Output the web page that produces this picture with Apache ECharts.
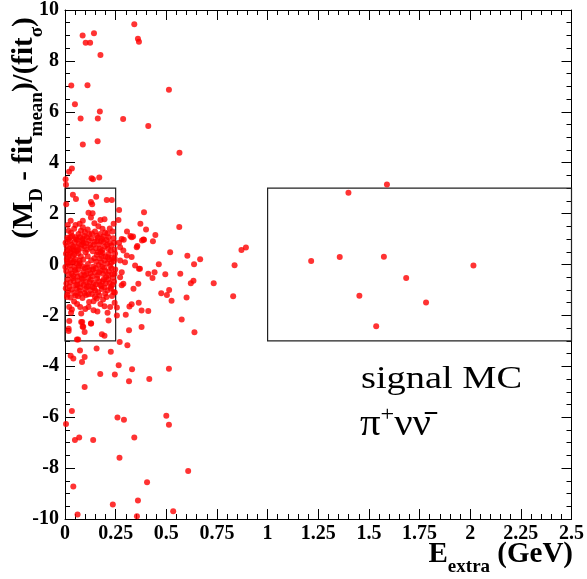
<!DOCTYPE html>
<html>
<head>
<meta charset="utf-8">
<script src="https://cdn.jsdelivr.net/npm/echarts@6/dist/echarts.min.js"></script>
<style>
html,body{margin:0;padding:0;background:#fff;}
#chart{width:587px;height:579px;}
</style>
</head>
<body>
<div id="chart"></div>
<script>
// ---- data (E_extra in GeV, normalized mass residual) ----
const xTickLabels = ['0','0.25','0.5','0.75','1','1.25','1.5','1.75','2','2.25','2.5'];
const yTickLabels = ['-10','-8','-6','-4','-2','0','2','4','6','8','10'];

// dense core of the distribution (E_extra < ~0.4)
const corePoints = [
[0.012,1.05],[0.024,0.92],[0.035,1.12],[0.048,0.88],[0.061,0.97],[0.074,1.08],[0.092,0.86],[0.118,0.95],[0.131,1.02],[0.146,0.89],[0.162,1.05],[0.177,0.91],[0.189,1.10],[0.205,0.96],[0.221,0.84],[0.238,1.03],
[0.008,0.74],[0.019,0.61],[0.031,0.78],[0.043,0.55],[0.057,0.69],[0.069,0.81],[0.083,0.63],[0.097,0.72],[0.109,0.58],[0.124,0.77],[0.152,0.64],[0.168,0.79],[0.183,0.57],[0.196,0.71],[0.212,0.62],[0.229,0.75],[0.244,0.59],
[0.005,0.42],[0.016,0.29],[0.028,0.47],[0.039,0.33],[0.052,0.21],[0.066,0.44],[0.078,0.31],[0.101,0.48],[0.157,0.38],[0.171,0.24],[0.186,0.45],[0.199,0.31],[0.216,0.41],[0.232,0.27],[0.247,0.43],
[0.011,0.12],[0.023,-0.04],[0.036,0.08],[0.047,-0.11],[0.059,0.03],[0.072,0.15],[0.086,-0.07],[0.113,0.02],[0.139,-0.09],[0.154,0.11],[0.166,-0.02],[0.179,0.09],[0.193,-0.13],[0.208,0.05],[0.223,-0.06],[0.241,0.13],
[0.006,-0.26],[0.018,-0.39],[0.029,-0.21],[0.041,-0.45],[0.054,-0.32],[0.067,-0.19],[0.079,-0.41],[0.093,-0.28],[0.106,-0.37],[0.121,-0.22],[0.134,-0.46],[0.148,-0.31],[0.161,-0.43],[0.175,-0.24],[0.188,-0.36],[0.203,-0.49],[0.217,-0.27],[0.233,-0.38],[0.248,-0.20],
[0.013,-0.58],[0.026,-0.71],[0.038,-0.54],[0.051,-0.82],[0.063,-0.63],[0.077,-0.76],[0.089,-0.57],[0.103,-0.69],[0.117,-0.84],[0.128,-0.60],[0.142,-0.73],[0.158,-0.55],[0.173,-0.81],[0.186,-0.66],[0.201,-0.74],[0.214,-0.59],[0.227,-0.87],[0.242,-0.68],
[0.004,-0.93],[0.017,-1.05],[0.032,-0.98],[0.045,-1.12],[0.058,-0.95],[0.071,-1.03],[0.099,-0.97],[0.126,-1.01],[0.144,-0.92],[0.163,-1.09],[0.181,-0.96],[0.209,-1.02],[0.226,-0.94],[0.246,-1.10],
[0.010,0.55],[0.044,0.12],[0.062,-0.48],[0.085,0.92],[0.137,0.52],[0.192,-0.58],[0.219,0.20],[0.236,-0.52],[0.027,0.18],[0.098,-0.15],[0.172,0.62],[0.115,-0.52],[0.055,0.99],[0.150,-1.03],
[0.003,0.85],[0.015,0.98],[0.040,0.70],[0.064,0.58],[0.081,0.78],[0.095,1.12],[0.105,0.83],[0.126,0.66],[0.141,0.78],[0.159,0.92],[0.176,0.50],[0.192,0.88],[0.208,0.77],[0.226,0.55],[0.243,0.85],
[0.009,0.22],[0.021,0.38],[0.034,0.60],[0.046,0.40],[0.058,0.52],[0.073,0.05],[0.090,0.19],[0.112,0.32],[0.129,0.17],[0.145,0.25],[0.163,0.48],[0.181,0.33],[0.195,0.16],[0.211,0.28],[0.228,0.07],[0.245,0.25],
[0.002,-0.10],[0.014,0.03],[0.032,-0.35],[0.050,-0.22],[0.069,-0.05],[0.083,-0.55],[0.096,-0.42],[0.110,-0.12],[0.125,-0.34],[0.137,-0.20],[0.152,-0.14],[0.169,-0.30],[0.184,-0.08],[0.199,-0.26],[0.214,-0.41],[0.230,-0.16],[0.244,-0.36],
[0.007,-0.75],[0.022,-0.86],[0.042,-0.65],[0.060,-0.80],[0.074,-0.90],[0.093,-0.80],[0.108,-0.88],[0.122,-0.70],[0.136,-0.88],[0.153,-0.79],[0.168,-0.66],[0.180,-0.85],[0.196,-0.90],[0.220,-0.73],[0.235,-0.80],
[0.012,-1.18],[0.028,-1.30],[0.052,-1.22],[0.086,-1.32],[0.104,-1.20],[0.133,-1.16],[0.148,-1.27],[0.170,-1.22],[0.188,-1.38],[0.205,-1.28],[0.232,-1.24],
[0.030,1.25],[0.045,1.40],[0.098,1.28],[0.120,1.19],[0.148,1.30],[0.185,1.40],[0.210,1.22],[0.235,1.30],[0.014,1.55],[0.072,1.60],[0.128,1.85],[0.175,1.75],
[0.030,-1.90],[0.060,-1.55],[0.100,-1.75],[0.160,-1.85],[0.210,-1.90],[0.245,-1.50],
[0.067,1.20],[0.051,1.07],[0.026,1.07],[0.133,1.22],[0.157,1.13],[0.173,1.20],[0.198,1.26],[0.108,1.07],[0.087,1.00],[0.215,1.07],[0.182,1.00],
[0.088,1.46],[0.079,1.33],[0.018,1.33],[0.221,1.41],[0.028,1.72],[0.088,1.72],[0.116,2.03],[0.136,2.01],[0.006,2.37],[0.128,2.46],[0.134,2.37],
[0.039,2.74],[0.054,2.57],[0.154,2.66],[0.206,2.53],[0.231,2.53],[0.005,3.13],[0.145,1.62],[0.195,1.78],[0.052,1.55],[0.240,1.60],[0.112,1.38],[0.165,1.50],
[0.010,-1.28],[0.064,-1.25],[0.075,-1.15],[0.097,-1.12],[0.116,-1.17],[0.157,-1.34],[0.141,-1.44],[0.119,-1.47],[0.198,-1.15],[0.239,-1.08],
[0.021,-1.67],[0.034,-1.77],[0.075,-1.67],[0.080,-1.93],[0.116,-1.67],[0.141,-1.80],[0.195,-1.64],[0.223,-1.67],[0.256,-1.69],[0.256,-2.00],
[0.021,-2.22],[0.018,-2.52],[0.080,-2.26],[0.087,-2.45],[0.097,-2.65],[0.129,-2.32],[0.182,-2.74],[0.195,-2.80],[0.059,-2.95],[0.045,-1.45],[0.175,-1.55],[0.215,-2.20],
[0.280,1.00],[0.329,1.07],[0.387,0.98],[0.272,0.68],[0.288,0.55],[0.354,0.68],[0.305,0.35],[0.329,0.29],[0.272,0.16],[0.296,0.09],[0.346,-0.04],[0.370,-0.17],[0.280,-0.30],[0.411,-0.36],[0.272,-0.50],[0.288,-0.76],[0.362,-0.76],[0.338,-0.95],[0.280,-0.82],
[0.267,2.14],[0.390,2.05],[0.264,1.75],[0.372,1.60],[0.400,1.38],[0.306,1.30],[0.446,1.16],[0.323,1.12],[0.336,1.10],[0.390,0.97],[0.380,0.94],[0.434,0.91],[0.290,0.97],[0.267,0.85],[0.357,0.73],
[0.519,0.48],[0.604,0.34],[0.667,0.21],[0.463,0.01],[0.637,0.01],[0.837,-0.03],[0.365,-0.17],[0.442,-0.30],[0.495,-0.38],[0.569,-0.36],[0.432,-0.53],[0.634,-0.64],[0.621,-0.74],[0.734,-0.74],[0.514,-1.00],
[0.475,-1.13],[0.503,-1.20],[0.526,-1.42],[0.600,-1.30],[0.830,-1.25],[0.364,-1.50],[0.329,-1.56],[0.318,-1.65],[0.378,-1.81],[0.411,-1.83],[0.300,-1.97],[0.576,-2.16],[0.378,-2.46],[0.316,-2.58],[0.639,-2.66],
[0.564,1.47],[0.893,0.67],[0.871,0.57],[0.090,-2.45],[0.085,-2.26],[0.128,-2.32],[0.018,-2.61],[0.065,-2.95],[0.270,-3.05],[0.308,-3.17]
];

// sparse tails (|residual| > 3)
const tailPoints = [
[0.342,9.44],[0.143,9.09],[0.087,9.00],[0.102,8.71],[0.124,8.71],[0.360,8.87],[0.365,8.75],[0.175,8.23],
[0.031,7.03],[0.111,7.04],[0.513,6.87],[0.049,6.30],[0.172,6.01],[0.077,5.74],[0.162,5.74],[0.287,5.72],[0.411,5.44],
[0.088,4.72],[0.161,4.84],[0.565,4.39],[0.034,3.77],[0.020,3.64],[0.003,3.35],[0.131,3.39],[0.138,3.35],[0.169,3.42],
[0.156,-3.30],[0.226,-3.43],[0.028,-3.59],[0.041,-3.69],[0.074,-3.38],[0.097,-3.63],[0.084,-3.83],[0.265,-3.96],[0.331,-4.12],[0.513,-4.10],
[0.174,-4.30],[0.246,-4.32],[0.316,-4.59],[0.416,-4.50],[0.097,-4.81],[0.034,-5.76],[0.005,-6.27],[0.259,-6.01],[0.291,-6.10],[0.500,-5.94],[0.513,-6.30],
[0.049,-6.90],[0.070,-6.80],[0.139,-6.90],[0.342,-6.80],[0.269,-7.59],[0.608,-8.11],[0.041,-8.72],[0.405,-8.56],[0.236,-9.43],[0.360,-9.27],
[0.062,-9.82],[0.355,-9.89],[0.534,-9.70]
];

// events in the high-E_extra region
const highEPoints = [
[1.589,3.14],[1.399,2.82],[1.215,0.14],[1.356,0.29],[1.574,0.30],[2.016,-0.04],[1.684,-0.53],[1.453,-1.23],[1.782,-1.49],[1.536,-2.43]
];

// selection boxes [xmin, ymin, xmax, ymax]
const boxes = [[0,-3,0.25,3],[1,-3,2.5,3]];

const allPoints = corePoints.concat(tailPoints, highEPoints);

const chart = echarts.init(document.getElementById('chart'), null, {renderer:'canvas'});
const FONT = 'Liberation Serif, Times New Roman, serif';
const axisCommon = {
  type:'value',
  axisLine:{show:true, onZero:false, lineStyle:{color:'#000', width:1}},
  axisTick:{show:true, inside:true, length:10, lineStyle:{color:'#000', width:1}},
  minorTick:{show:true, length:5, lineStyle:{color:'#000', width:1}},
  splitLine:{show:false},
  minorSplitLine:{show:false}
};
const xLab = {show:true, fontFamily:FONT, fontWeight:'bold', fontSize:20, color:'#000', margin:5,
  formatter:(v)=>xTickLabels[Math.round(v/0.25)]};
const yLab = {show:true, fontFamily:FONT, fontWeight:'bold', fontSize:20, color:'#000', margin:6,
  formatter:(v)=>yTickLabels[Math.round((v+10)/2)]};

chart.setOption({
  animation:false,
  backgroundColor:'#fff',
  grid:{left:65, right:14, top:8, bottom:60, containLabel:false},
  xAxis:[
    Object.assign({}, axisCommon, {position:'bottom', min:0, max:2.5, interval:0.25, minorTick:Object.assign({}, axisCommon.minorTick, {splitNumber:5}), axisLabel:xLab}),
    Object.assign({}, axisCommon, {position:'top', min:0, max:2.5, interval:0.25, minorTick:Object.assign({}, axisCommon.minorTick, {splitNumber:5}), axisLabel:{show:false}})
  ],
  yAxis:[
    Object.assign({}, axisCommon, {position:'left', min:-10, max:10, interval:2, minorTick:Object.assign({}, axisCommon.minorTick, {splitNumber:4}), axisLabel:yLab}),
    Object.assign({}, axisCommon, {position:'right', min:-10, max:10, interval:2, minorTick:Object.assign({}, axisCommon.minorTick, {splitNumber:4}), axisLabel:{show:false}})
  ],
  series:[{
    type:'scatter',
    xAxisIndex:0, yAxisIndex:0,
    data: allPoints,
    symbol:'circle',
    symbolSize:6,
    itemStyle:{color:'#ff0000'},
    emphasis:{disabled:true},
    silent:true,
    markArea:{
      silent:true,
      itemStyle:{color:'rgba(0,0,0,0)', borderColor:'#222', borderWidth:1.2},
      data: boxes.map(b=>[{coord:[b[0],b[1]]},{coord:[b[2],b[3]]}])
    }
  }],
  graphic:[
    {type:'text', x:361, y:364, scaleX:1.2, silent:true,
      style:{text:'signal MC', fill:'#000', font:'normal 32px '+FONT}},
    {type:'text', x:360, y:404, scaleX:1.1, silent:true,
      style:{text:'{a|π}{s|+}{a|νν\u0304}', fill:'#000',
        rich:{a:{fontFamily:FONT, fontSize:37, fill:'#000', verticalAlign:'bottom', lineHeight:40},
              s:{fontFamily:FONT, fontSize:22, fill:'#000', verticalAlign:'top', lineHeight:40}}}},
    {type:'text', x:573, y:555, silent:true,
      style:{text:'{a|E}{b|extra}{a| (GeV)}', align:'right', verticalAlign:'middle',
        rich:{a:{fontFamily:FONT, fontWeight:'bold', fontSize:29, fill:'#000', lineHeight:32, verticalAlign:'middle'},
              b:{fontFamily:FONT, fontWeight:'bold', fontSize:19, fill:'#000', lineHeight:44, verticalAlign:'bottom'}}}},
    {type:'text', x:25, y:128, rotation:Math.PI/2, silent:true,
      style:{text:'{a|(M}{b|D}{a| - fit}{b|mean}{a|)/(fit}{b|σ}{a|)}', align:'center', verticalAlign:'middle',
        rich:{a:{fontFamily:FONT, fontWeight:'bold', fontSize:29, fill:'#000', lineHeight:32, verticalAlign:'middle'},
              b:{fontFamily:FONT, fontWeight:'bold', fontSize:19, fill:'#000', lineHeight:44, verticalAlign:'bottom'}}}}
  ]
});
</script>
</body>
</html>
